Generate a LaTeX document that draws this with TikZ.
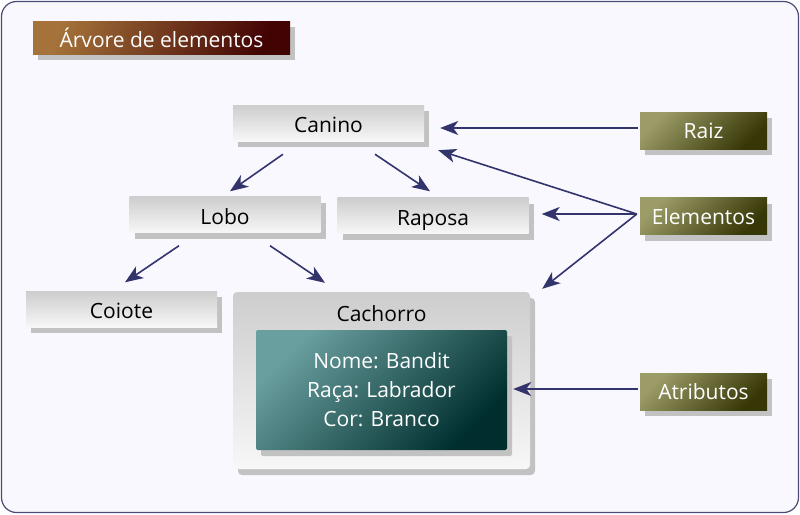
\documentclass[tikz,border=0pt]{standalone}
\usepackage{fontspec}
\setmainfont{Open Sans}
\usetikzlibrary{shadows,arrows.meta,calc}
\definecolor{framec}{HTML}{4B4B78}
\definecolor{bgc}{HTML}{F8F8FE}
\definecolor{arrowc}{HTML}{34346C}
\definecolor{greytop}{HTML}{CDCDCD}
\definecolor{greybot}{HTML}{F7F7F7}
\definecolor{olivetop}{HTML}{9C9C68}
\definecolor{olivebot}{HTML}{363606}
\definecolor{tealtop}{HTML}{6A9F9F}
\definecolor{tealbot}{HTML}{002E2E}
\definecolor{titletop}{HTML}{A4723A}
\definecolor{titlebot}{HTML}{420303}
\definecolor{shadowc}{HTML}{C2C2C2}
\begin{document}
\begin{tikzpicture}[x=1pt,y=-1pt,
  txt/.style={font=\fontsize{21}{25}\selectfont},
  shad/.style={drop shadow={shadow xshift=5pt,shadow yshift=-6pt,fill=shadowc,opacity=1}},
  greybox/.style={shad,top color=greytop,bottom color=greybot,draw=none,
    minimum width=191pt,minimum height=36pt,inner sep=0pt,txt,text=black,
    text height=19pt,text depth=0pt},
  olivebox/.style={shad,top color=olivetop,bottom color=olivebot,shading angle=45,
    draw=none,minimum width=127pt,minimum height=37pt,inner sep=0pt,txt,text=white,
    text height=16pt,text depth=0pt},
  arr/.style={draw=arrowc,line width=1.6pt,-{Stealth[length=18pt,width=14pt,inset=5pt]}}
]
\useasboundingbox (0,0) rectangle (800,514);
\draw[framec,line width=1.2pt,fill=bgc,rounded corners=15pt] (1.5,1.5) rectangle (798.5,512.5);

\node[shad,top color=titletop,bottom color=titlebot,shading angle=70,minimum width=257pt,
  minimum height=33pt,inner sep=0pt,txt,text=white] (title) at (161.5,37.5) {Árvore de elementos};

\node[greybox] (canino) at (328.5,123) {Canino};
\node[greybox] (lobo) at (225,214.5) {Lobo};
\node[greybox] (raposa) at (433,215.5) {Raposa};
\node[greybox] (coiote) at (121.5,309) {Coiote};

\node[shad,top color=greytop,bottom color=greybot,rounded corners=4pt,minimum width=297pt,
  minimum height=177pt,inner sep=0pt] (cachorro) at (381.5,380.5) {};
\node[txt,anchor=center] (cachlabel) at ($(cachorro.north)+(0,22)$) {Cachorro};
\node[shad,top color=tealtop,bottom color=tealbot,shading angle=45,rounded corners=2pt,
  minimum width=251pt,minimum height=120pt,inner sep=0pt,txt,text=white,
  align=center] (attrs) at (381.5,390) {Nome: Bandit\\[4pt]Raça: Labrador\\[4pt]Cor: Branco};

\node[olivebox] (raiz) at (703.5,130.5) {Raiz};
\node[olivebox] (elementos) at (703.5,216) {Elementos};
\node[olivebox] (atributos) at (703.5,391.5) {Atributos};

\coordinate (ehub) at ($(elementos.west)+(-3,-2)$);

\draw[arr] ($(canino.south)+(-45.5,13)$) -- ($(lobo.north)+(5,-5)$);
\draw[arr] ($(canino.south)+(46.5,13)$) -- ($(raposa.north)+(-3,-6)$);
\draw[arr] ($(lobo.south)+(-46,13)$) -- ($(coiote.north)+(3.5,-8.5)$);
\draw[arr] ($(lobo.south)+(45,13)$) -- ($(cachorro.north)+(-56.5,-9)$);
\draw[arr] ($(raiz.west)+(-2,-2.5)$) -- ($(canino.east)+(16,5)$);
\draw[arr] (ehub) -- ($(canino.south east)+(14,9)$);
\draw[arr] (ehub) -- ($(raposa.east)+(13,-1.5)$);
\draw[arr] (ehub) -- ($(cachorro.north east)+(12,-3)$);
\draw[arr] ($(atributos.west)+(-2,-2.5)$) -- ($(attrs.east)+(6,-1)$);
\end{tikzpicture}
\end{document}
